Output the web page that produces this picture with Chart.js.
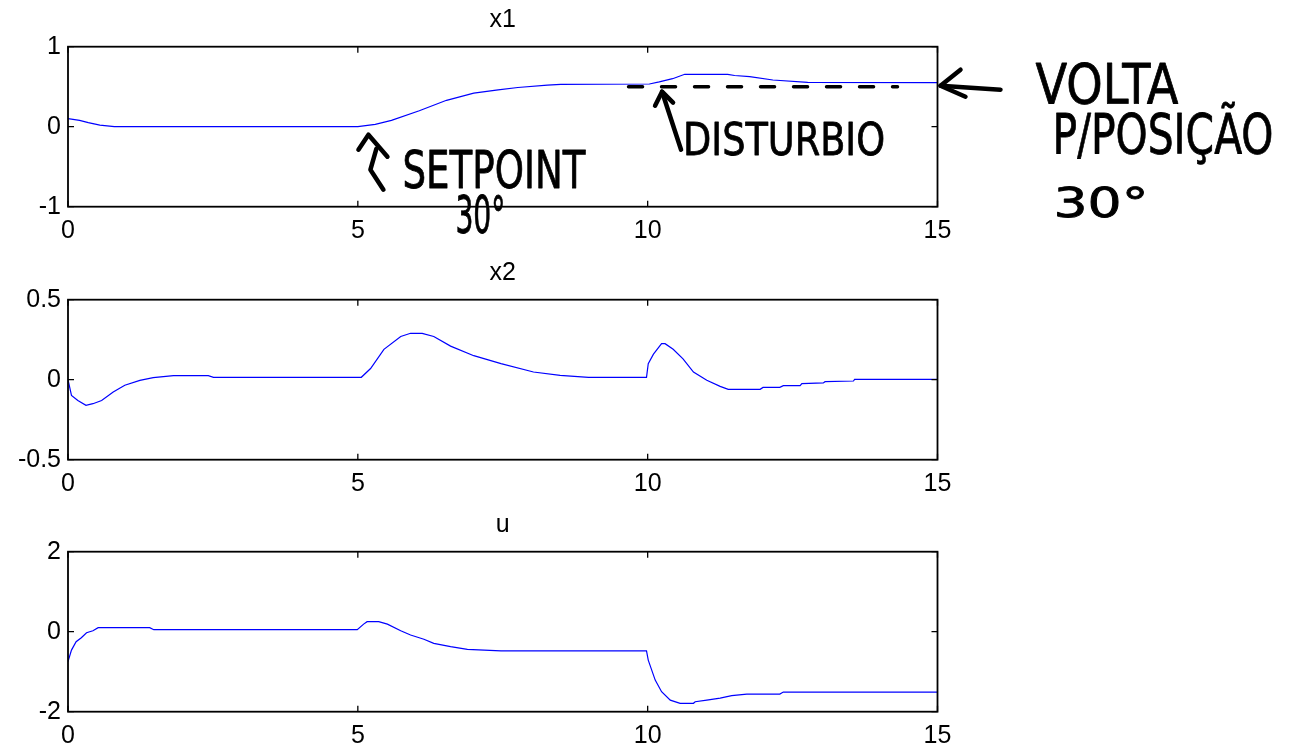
<!DOCTYPE html>
<html>
<head>
<meta charset="utf-8">
<script src="https://cdn.jsdelivr.net/npm/chart.js@4"></script>
<style>
    html, body { margin: 0; padding: 0; background: #fff; overflow: hidden; }
    #figura { position: relative; width: 1301px; height: 749px; overflow: hidden; }
    .painel { position: absolute; left: 0; width: 1301px; height: 250px; }
</style>
</head>
<body>
<div id="figura">
    <div class="painel" style="top:0px"><canvas id="grafico-x1" width="1301" height="250"></canvas></div>
    <div class="painel" style="top:252.6px"><canvas id="grafico-x2" width="1301" height="250"></canvas></div>
    <div class="painel" style="top:505px"><canvas id="grafico-u" width="1301" height="250"></canvas></div>
</div>
<script>
// Dados (tempo em s)
const tempoX1 = [0, 0.2, 0.35, 0.55, 0.8, 5.0, 5.2, 5.3, 5.58, 6.06, 6.53, 7.0, 7.42, 7.76, 8.27, 8.5, 10.03, 10.2, 10.43, 10.64, 11.38, 11.5, 11.76, 12.16, 12.76, 15];
const valoresX1 = [0.1, 0.08, 0.05, 0.02, 0, 0, 0.02, 0.03, 0.08, 0.2, 0.33, 0.42, 0.46, 0.49, 0.52, 0.53, 0.534, 0.56, 0.6, 0.655, 0.655, 0.64, 0.625, 0.584, 0.555, 0.55];

const tempoX2 = [0, 0.06, 0.17, 0.31, 0.43, 0.58, 0.78, 0.98, 1.24, 1.47, 1.82, 2.42, 2.51, 5.06, 5.22, 5.45, 5.74, 5.91, 6.11, 6.31, 6.6, 7.0, 7.47, 8.03, 8.49, 8.98, 9.98, 10.01, 10.1, 10.24, 10.3, 10.44, 10.61, 10.79, 11.02, 11.25, 11.39, 11.94, 11.99, 12.28, 12.34, 12.63, 12.66, 13.03, 13.06, 13.55, 13.57, 15];
const valoresX2 = [0, -0.098, -0.13, -0.16, -0.15, -0.13, -0.077, -0.035, -0.004, 0.0125, 0.025, 0.025, 0.015, 0.015, 0.07, 0.19, 0.27, 0.29, 0.29, 0.27, 0.21, 0.15, 0.1, 0.048, 0.027, 0.015, 0.015, 0.1, 0.16, 0.225, 0.225, 0.19, 0.13, 0.048, -0.004, -0.042, -0.06, -0.06, -0.048, -0.048, -0.0375, -0.0375, -0.025, -0.02, -0.0125, -0.008, 0.002, 0.002];

const tempoU = [0, 0.06, 0.14, 0.23, 0.32, 0.43, 0.52, 1.41, 1.48, 4.99, 5.1, 5.16, 5.36, 5.51, 5.74, 5.91, 6.14, 6.31, 6.6, 6.89, 7.47, 9.98, 10.01, 10.13, 10.24, 10.39, 10.56, 10.79, 10.82, 11.02, 11.25, 11.45, 11.71, 12.28, 12.34, 15];
const valoresU = [-0.75, -0.46, -0.25, -0.15, -0.025, 0.025, 0.1, 0.1, 0.05, 0.05, 0.19, 0.25, 0.25, 0.19, 0.025, -0.083, -0.19, -0.29, -0.375, -0.44, -0.48, -0.48, -0.71, -1.21, -1.5, -1.71, -1.79, -1.79, -1.75, -1.71, -1.66, -1.6, -1.56, -1.56, -1.51, -1.51];

// Ticks de cada eixo
const ticksTempo = [0, 5, 10, 15];
const ticksX1 = [-1, 0, 1];
const ticksX2 = [-0.5, 0, 0.5];
const ticksU = [-2, 0, 2];

// Anotações escritas à mão
const setpointRef = 0.5;
const textoSetpoint = ['SETPOINT', '30°'];
const textoDisturbio = 'DISTURBIO';
const textoVolta = ['VOLTA', 'P/POSIÇÃO', '30°'];

const fonteEixo = { family: '"Liberation Sans", Arial, sans-serif', size: 25 };
const fonteMao = '"DejaVu Sans", sans-serif';

// Caixa estilo MATLAB com ticks para dentro
const caixaPlugin = {
    id: 'caixa',
    afterDatasetsDraw(chart) {
        const { ctx, chartArea: a, scales } = chart;
        ctx.save();
        ctx.strokeStyle = '#000';
        ctx.lineWidth = 1.8;
        ctx.strokeRect(a.left, a.top, a.right - a.left, a.bottom - a.top);
        ctx.lineWidth = 1.3;
        ctx.beginPath();
        scales.x.ticks.forEach(t => {
            const px = scales.x.getPixelForValue(t.value);
            ctx.moveTo(px, a.bottom); ctx.lineTo(px, a.bottom - 6);
            ctx.moveTo(px, a.top); ctx.lineTo(px, a.top + 6);
        });
        scales.y.ticks.forEach(t => {
            const py = scales.y.getPixelForValue(t.value);
            ctx.moveTo(a.left, py); ctx.lineTo(a.left + 6, py);
            ctx.moveTo(a.right, py); ctx.lineTo(a.right - 6, py);
        });
        ctx.stroke();
        ctx.restore();
    }
};

// Função para escrever texto "à mão" com altura e largura dadas
function escreverMao(ctx, texto, esq, base, altura, largura) {
    ctx.save();
    ctx.font = `${Math.round(altura / 0.73)}px ${fonteMao}`;
    ctx.textAlign = 'left';
    ctx.textBaseline = 'alphabetic';
    const w = ctx.measureText(texto).width;
    ctx.translate(esq, base);
    ctx.scale(largura / w, 1);
    ctx.lineWidth = 0.8;
    ctx.fillText(texto, 0, 0);
    ctx.strokeText(texto, 0, 0);
    ctx.restore();
}

function tracar(ctx, pontos, ox, oy) {
    ctx.beginPath();
    pontos.forEach(([dx, dy], i) => {
        if (i === 0) ctx.moveTo(ox + dx, oy + dy);
        else ctx.lineTo(ox + dx, oy + dy);
    });
    ctx.stroke();
}

const anotacoesPlugin = {
    id: 'anotacoes',
    afterDraw(chart) {
        const { ctx, scales: { x, y } } = chart;
        ctx.save();
        ctx.strokeStyle = '#000';
        ctx.fillStyle = '#000';
        ctx.lineCap = 'round';
        ctx.lineJoin = 'round';

        // linha tracejada da referência
        ctx.lineWidth = 3.5;
        ctx.setLineDash([14, 19]);
        ctx.beginPath();
        ctx.moveTo(x.getPixelForValue(9.67), y.getPixelForValue(setpointRef));
        ctx.lineTo(x.getPixelForValue(14.31), y.getPixelForValue(setpointRef));
        ctx.stroke();
        ctx.setLineDash([]);

        ctx.lineWidth = 4.5;
        // seta do setpoint
        let ax = x.getPixelForValue(5.2), ay = y.getPixelForValue(0);
        tracar(ctx, [[-11, 23], [-1, 8], [18, 30]], ax, ay);
        tracar(ctx, [[7, 22], [1, 43], [14, 63]], ax, ay);
        escreverMao(ctx, textoSetpoint[0], ax + 33, ay + 61, 38, 183);
        escreverMao(ctx, textoSetpoint[1], ax + 86, ay + 106, 38, 50);

        // seta do distúrbio
        ax = x.getPixelForValue(10.3); ay = y.getPixelForValue(setpointRef);
        tracar(ctx, [[16, 63], [-3, 5]], ax, ay);
        tracar(ctx, [[-10, 19], [-3, 5], [8, 16]], ax, ay);
        escreverMao(ctx, textoDisturbio, ax + 18, ay + 68, 33, 202);

        // seta da volta à posição
        ax = x.getPixelForValue(15); ay = y.getPixelForValue(valoresX1[valoresX1.length - 1]);
        tracar(ctx, [[63, 7], [3, 3]], ax, ay);
        tracar(ctx, [[23, -13], [3, 3], [28, 14]], ax, ay);
        escreverMao(ctx, textoVolta[0], ax + 98, ay + 20, 40, 143);
        escreverMao(ctx, textoVolta[1], ax + 115, ay + 70, 40, 221);
        escreverMao(ctx, textoVolta[2], ax + 116, ay + 134, 30, 95);
        ctx.restore();
    }
};

// Função para montar um subplot
function criarSubplot(id, titulo, tempos, valores, ticksY, extras) {
    const ctx = document.getElementById(id).getContext('2d');
    const pontos = tempos.map((t, i) => ({ x: t, y: valores[i] }));
    return new Chart(ctx, {
        type: 'line',
        data: {
            datasets: [{
                data: pontos,
                borderColor: '#0000ff',
                borderWidth: 1.2,
                pointRadius: 0,
                tension: 0,
                fill: false
            }]
        },
        options: {
            responsive: false,
            animation: false,
            devicePixelRatio: 1,
            layout: { padding: { left: 0, right: 1301 - 937.5, top: 0, bottom: 0 } },
            plugins: {
                legend: { display: false },
                tooltip: { enabled: false },
                title: {
                    display: true,
                    text: titulo,
                    fullSize: false,
                    color: '#000',
                    font: { ...fonteEixo, weight: 'normal' },
                    padding: { top: 5, bottom: 46.7 - 5 - 25 * 1.2 }
                }
            },
            scales: {
                x: {
                    type: 'linear',
                    min: ticksTempo[0],
                    max: ticksTempo[ticksTempo.length - 1],
                    afterBuildTicks: s => { s.ticks = ticksTempo.map(v => ({ value: v })); },
                    ticks: { color: '#000', font: fonteEixo, padding: 9, maxRotation: 0 },
                    grid: { display: false, drawTicks: false },
                    border: { display: false },
                    afterFit: s => { s.height = 250 - 206.7; }
                },
                y: {
                    type: 'linear',
                    min: ticksY[0],
                    max: ticksY[ticksY.length - 1],
                    afterBuildTicks: s => { s.ticks = ticksY.map(v => ({ value: v })); },
                    ticks: { color: '#000', font: fonteEixo, padding: 7 },
                    grid: { display: false, drawTicks: false },
                    border: { display: false },
                    afterFit: s => { s.width = 68; }
                }
            }
        },
        plugins: [caixaPlugin].concat(extras || [])
    });
}

criarSubplot('grafico-x1', 'x1', tempoX1, valoresX1, ticksX1, [anotacoesPlugin]);
criarSubplot('grafico-x2', 'x2', tempoX2, valoresX2, ticksX2);
criarSubplot('grafico-u', 'u', tempoU, valoresU, ticksU);
</script>
</body>
</html>
